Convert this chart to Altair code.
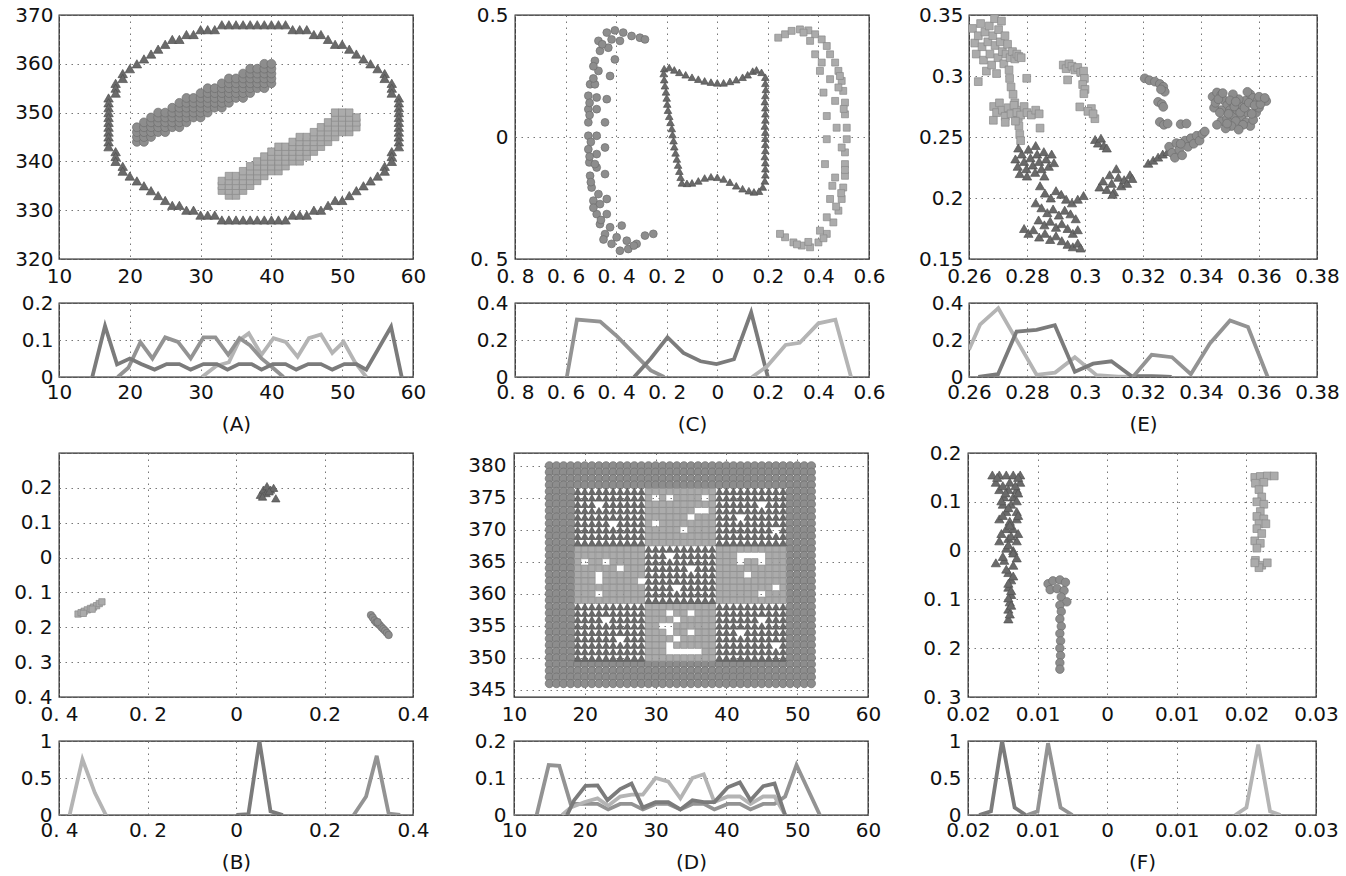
import altair as alt
import pandas as pd

FONT = "DejaVu Sans"
TRI_FILL, TRI_EDGE = "#6a6a6a", "#525252"
CIR_FILL, CIR_EDGE = "#8d8d8d", "#6e6e6e"
SQ_FILL, SQ_EDGE = "#ababab", "#8a8a8a"
TRI_LINE, CIR_LINE, SQ_LINE = "#7b7b7b", "#939393", "#b4b4b4"

# ---------------- Panel A (scatter) ----------------
a_tri_rows_y = [368, 367, 366, 365, 364, 363, 362, 361, 360, 359, 358, 357, 356, 355,
                354, 353, 352, 351, 350, 349, 348, 347, 346, 345, 344, 343, 342, 341,
                340, 339, 338, 337, 336, 335, 334, 333, 332, 331, 330, 329, 328]
a_tri_rows_x = [
    [33, 34, 35, 36, 37, 38, 39, 40, 41, 42], [30, 31, 32, 43, 44, 45], [28, 29, 46, 47],
    [26, 27, 48], [25, 49, 50], [24, 51], [23, 52], [22, 53], [21, 54], [20, 55], [19, 56],
    [19, 56], [18, 57], [18, 57], [18, 57], [17, 58], [17, 58], [17, 58], [17, 58], [17, 58],
    [17, 58], [17, 58], [17, 58], [17, 58], [17, 58], [17, 58], [18, 57], [18, 57], [18, 57],
    [19, 56], [19, 56], [20, 55], [21, 54], [22, 53], [23, 52], [24, 51], [25, 49, 50],
    [26, 27, 48], [28, 29, 46, 47], [30, 31, 32, 43, 44, 45],
    [33, 34, 35, 36, 37, 38, 39, 40, 41, 42]]
a_cir_cols_x = [21, 22, 23, 24, 25, 26, 27, 28, 29, 30, 31, 32, 33, 34, 35, 36, 37, 38, 39, 40]
a_cir_lo = [344, 344, 345, 346, 346, 347, 347, 348, 349, 349, 350, 351, 351, 352, 353, 353, 354, 355, 355, 356]
a_cir_hi = [347, 348, 349, 350, 350, 351, 352, 353, 353, 354, 355, 355, 356, 357, 357, 358, 359, 359, 360, 360]
a_sq_cols_x = [33, 34, 35, 36, 37, 38, 39, 40, 41, 42, 43, 44, 45, 46, 47, 48, 49, 50, 51, 52]
a_sq_lo = [334, 333, 333, 334, 335, 336, 337, 338, 338, 339, 340, 340, 341, 342, 343, 344, 345, 346, 346, 347]
a_sq_hi = [336, 337, 337, 338, 339, 340, 341, 342, 343, 343, 344, 345, 345, 346, 347, 348, 350, 350, 350, 349]

# ---------------- Panel A (profiles) ----------------
a_tri_lx = [14.7, 16.5, 18.2, 20.0, 21.6, 23.5, 25.2, 27.0, 28.6, 30.4, 32.3, 33.8, 35.4, 37.2, 38.6,
            40.2, 42.0, 43.5, 45.2, 47.0, 48.6, 50.3, 52.0, 53.4, 56.9, 58.4]
a_tri_ly = [0, 0.138, 0.034, 0.05, 0.035, 0.02, 0.035, 0.035, 0.02, 0.035, 0.035, 0.02, 0.035, 0.035,
            0.02, 0.035, 0.035, 0.02, 0.035, 0.035, 0.02, 0.035, 0.035, 0.02, 0.136, 0]
a_cir_lx = [18.3, 19.8, 21.5, 23.2, 25.0, 26.8, 28.6, 30.4, 32.1, 33.9, 35.5, 37.0, 38.6, 40.2, 41.7]
a_cir_ly = [0, 0.025, 0.094, 0.05, 0.107, 0.095, 0.05, 0.107, 0.107, 0.06, 0.105, 0.085, 0.05, 0.025, 0]
a_sq_lx = [30.2, 32.2, 34.0, 35.5, 36.8, 38.6, 40.3, 42.0, 43.7, 45.3, 47.0, 48.6, 50.2, 51.8, 53.4]
a_sq_ly = [0, 0.03, 0.04, 0.1, 0.118, 0.06, 0.105, 0.095, 0.055, 0.105, 0.115, 0.065, 0.095, 0.04, 0]

# ---------------- Panel C (scatter) ----------------
c_cir_x = [-0.503, -0.51, -0.51, -0.51, -0.51, -0.51, -0.506, -0.503, -0.497, -0.49, -0.477, -0.464,
           -0.444, -0.418, -0.385, -0.352, -0.319, -0.286, -0.253, -0.358, -0.398, -0.424, -0.378,
           -0.437, -0.464, -0.437, -0.47, -0.444, -0.477, -0.484, -0.477, -0.444, -0.477, -0.444,
           -0.477, -0.437, -0.477, -0.484, -0.424, -0.47, -0.405, -0.484, -0.464, -0.431, -0.47,
           -0.437, -0.405, -0.372, -0.339, -0.306, -0.286, -0.385, -0.418, -0.49, -0.5,
           -0.505, -0.505, -0.505, -0.5, -0.49, -0.49, -0.455, -0.46, -0.45, -0.33]
c_cir_y = [0.216, 0.169, 0.114, 0.06, 0.005, -0.05, -0.104, -0.159, -0.207, -0.261, -0.316, -0.357,
           -0.398, -0.438, -0.466, -0.459, -0.438, -0.404, -0.397, -0.425, -0.411, -0.37, -0.363,
           -0.316, -0.275, -0.254, -0.234, -0.152, -0.125, -0.111, -0.07, -0.043, 0.005, 0.06,
           0.114, 0.155, 0.162, 0.216, 0.25, 0.271, 0.318, 0.312, 0.353, 0.366, 0.394, 0.428,
           0.437, 0.428, 0.414, 0.407, 0.4, 0.394, 0.4, 0.29, -0.02,
           0.14, 0.09, -0.08, -0.185, 0.24, -0.29, 0.38, -0.34, -0.42, -0.445]
c_sq_x = [0.241, 0.268, 0.294, 0.327, 0.36, 0.387, 0.413, 0.433, 0.446, 0.466, 0.479, 0.492, 0.498,
          0.505, 0.505, 0.512, 0.512, 0.505, 0.505, 0.505, 0.498, 0.492, 0.479, 0.459, 0.433, 0.4,
          0.367, 0.334, 0.301, 0.268, 0.248, 0.387, 0.406, 0.446, 0.42, 0.466, 0.433, 0.472, 0.433,
          0.492, 0.426, 0.466, 0.446, 0.433, 0.406, 0.341, 0.367, 0.413, 0.479, 0.455,
          0.5, 0.505, 0.47, 0.49, 0.485, 0.42, 0.36, 0.315]
c_sq_y = [0.407, 0.421, 0.435, 0.441, 0.437, 0.421, 0.4, 0.373, 0.339, 0.305, 0.271, 0.23, 0.189,
          0.141, 0.093, 0.038, -0.009, -0.063, -0.111, -0.159, -0.207, -0.254, -0.302, -0.35,
          -0.397, -0.432, -0.452, -0.445, -0.432, -0.411, -0.397, 0.339, 0.271, 0.237, 0.182,
          0.148, 0.086, 0.038, -0.009, -0.043, -0.111, -0.166, -0.254, -0.329, -0.384, 0.428,
          0.394, 0.305, 0.203, -0.2,
          0.115, -0.135, -0.285, -0.23, 0.25, -0.415, -0.43, -0.44]
c_tri_x = [-0.21, -0.19, -0.17, -0.15, -0.125, -0.1, -0.075, -0.05, -0.025, 0.0, 0.025, 0.05, 0.075,
           0.1, 0.12, 0.14, 0.155, 0.175,
           0.19, 0.19, 0.192, 0.19, 0.188, 0.19, 0.19, 0.19, 0.188, 0.19, 0.19, 0.19, 0.19, 0.188,
           0.19, 0.19, 0.19, 0.188, 0.18,
           0.165, 0.145, 0.125, 0.1, 0.075, 0.05, 0.025, 0.0, -0.025, -0.05, -0.075, -0.1, -0.12, -0.14,
           -0.145, -0.15, -0.155, -0.16, -0.165, -0.17, -0.173, -0.177, -0.18, -0.185, -0.19, -0.195,
           -0.198, -0.2, -0.203, -0.207, -0.21, -0.212]
c_tri_y = [0.28, 0.285, 0.275, 0.265, 0.255, 0.245, 0.237, 0.23, 0.225, 0.222, 0.222, 0.228, 0.235,
           0.245, 0.255, 0.27, 0.275, 0.265,
           0.245, 0.22, 0.195, 0.17, 0.145, 0.12, 0.095, 0.07, 0.045, 0.02, -0.005, -0.03, -0.055,
           -0.08, -0.105, -0.13, -0.155, -0.18, -0.205,
           -0.222, -0.225, -0.22, -0.212, -0.2, -0.185, -0.172, -0.165, -0.163, -0.168, -0.18, -0.188,
           -0.19, -0.188,
           -0.165, -0.14, -0.115, -0.09, -0.065, -0.04, -0.015, 0.01, 0.035, 0.06, 0.085, 0.11, 0.135,
           0.16, 0.185, 0.21, 0.235, 0.26]

# ---------------- Panel C (profiles) ----------------
c_cir_lx = [-0.595, -0.555, -0.463, -0.395, -0.336, -0.263, -0.21]
c_cir_ly = [0, 0.31, 0.30, 0.218, 0.136, 0.036, 0]
c_tri_lx = [-0.329, -0.263, -0.197, -0.134, -0.066, -0.003, 0.066, 0.134, 0.2]
c_tri_ly = [0, 0.1, 0.215, 0.13, 0.085, 0.07, 0.096, 0.349, 0]
c_sq_lx = [0.138, 0.197, 0.27, 0.326, 0.4, 0.467, 0.529]
c_sq_ly = [0, 0.058, 0.173, 0.185, 0.29, 0.31, 0]

# ---------------- Panel E (scatter) ----------------
e_sq_x = [0.2612, 0.2620, 0.2625, 0.2632, 0.2640, 0.2645, 0.2650, 0.2655, 0.2660, 0.2665, 0.2670,
          0.2672, 0.2678, 0.2682, 0.2688, 0.2690, 0.2695, 0.2700, 0.2702, 0.2708, 0.2712, 0.2715,
          0.2720, 0.2724, 0.2728, 0.2733, 0.2738, 0.2742, 0.2750, 0.2758, 0.2765, 0.2772, 0.2780,
          0.2740, 0.2745, 0.2752, 0.2758, 0.2765, 0.2770, 0.2772, 0.2775, 0.2778, 0.2632, 0.2799,
          0.2685, 0.2695, 0.2705, 0.2715, 0.2725, 0.2735, 0.2745, 0.2755, 0.2765, 0.2778, 0.2790,
          0.2800, 0.2815, 0.2830, 0.2842, 0.2684, 0.2845, 0.2725, 0.2760,
          0.2925, 0.2935, 0.2945, 0.2955, 0.2965, 0.2975, 0.2985, 0.2995, 0.2998, 0.2992, 0.3000,
          0.2996, 0.2940, 0.2982, 0.3022, 0.3034, 0.3010, 0.3028]
e_sq_y = [0.339, 0.327, 0.318, 0.333, 0.343, 0.324, 0.313, 0.336, 0.304, 0.328, 0.341, 0.318, 0.309,
          0.333, 0.347, 0.325, 0.302, 0.315, 0.338, 0.328, 0.345, 0.320, 0.310, 0.333, 0.318, 0.326,
          0.305, 0.315, 0.320, 0.314, 0.318, 0.316, 0.315, 0.298, 0.291, 0.285, 0.278, 0.272, 0.266,
          0.259, 0.252, 0.247, 0.2954, 0.2981,
          0.275, 0.270, 0.278, 0.272, 0.267, 0.274, 0.269, 0.276, 0.270, 0.268, 0.275, 0.270, 0.268,
          0.272, 0.269, 0.2637, 0.2573, 0.262, 0.263,
          0.309, 0.306, 0.310, 0.308, 0.305, 0.307, 0.303, 0.304, 0.298, 0.293, 0.289, 0.2855, 0.2968,
          0.2747, 0.2733, 0.2650, 0.2710, 0.2690]
e_tri_x = [0.2760, 0.2768, 0.2775, 0.2782, 0.2790, 0.2798, 0.2805, 0.2812, 0.2820, 0.2828, 0.2835,
           0.2842, 0.2850, 0.2858, 0.2866, 0.2875, 0.2885, 0.2893, 0.2770, 0.2800, 0.2830, 0.2860,
           0.2845, 0.2862, 0.2882, 0.2900, 0.2918, 0.2935, 0.2955, 0.2975, 0.2995, 0.2830, 0.2850,
           0.2870, 0.2890, 0.2910, 0.2930, 0.2950, 0.2968, 0.2840, 0.2860, 0.2880, 0.2900, 0.2920,
           0.2940, 0.2958, 0.2975, 0.2790, 0.2805, 0.2822, 0.2842, 0.2862, 0.2880, 0.2900, 0.2920,
           0.2940, 0.2958, 0.2975, 0.2985,
           0.3035, 0.3045, 0.3055, 0.3065, 0.3075,
           0.3050, 0.3062, 0.3075, 0.3085, 0.3092, 0.3100, 0.3108, 0.3115, 0.3125, 0.3135, 0.3145,
           0.3155, 0.3163, 0.3095,
           0.3218, 0.3235, 0.3252, 0.3268, 0.3285]
e_tri_y = [0.232, 0.226, 0.220, 0.236, 0.230, 0.224, 0.240, 0.233, 0.227, 0.221, 0.236, 0.230, 0.224,
           0.238, 0.232, 0.226, 0.236, 0.229, 0.241, 0.218, 0.243, 0.218,
           0.210, 0.204, 0.200, 0.206, 0.203, 0.199, 0.196, 0.199, 0.202, 0.196, 0.192, 0.188, 0.191,
           0.186, 0.190, 0.187, 0.183, 0.182, 0.178, 0.181, 0.176, 0.179, 0.175, 0.171, 0.174, 0.175,
           0.171, 0.174, 0.168, 0.171, 0.166, 0.169, 0.165, 0.162, 0.160, 0.163, 0.159,
           0.248, 0.245, 0.249, 0.243, 0.241,
           0.209, 0.214, 0.207, 0.219, 0.212, 0.205, 0.224, 0.217, 0.210, 0.215, 0.212, 0.219, 0.216,
           0.203,
           0.2285, 0.231, 0.2335, 0.236, 0.238]
e_cir_x = [0.3206, 0.3222, 0.3241, 0.3258, 0.3270, 0.3275, 0.3262, 0.3252, 0.3265, 0.3270,
           0.3258, 0.3272, 0.3285, 0.3330, 0.3350,
           0.3290, 0.3300, 0.3310, 0.3315, 0.3325, 0.3335, 0.3345, 0.3355, 0.3365, 0.3375, 0.3385,
           0.3395, 0.3405, 0.3413, 0.3330,
           0.3440, 0.3455, 0.3470, 0.3480, 0.3490, 0.3500, 0.3470, 0.3455, 0.3490, 0.3510, 0.3525,
           0.3540, 0.3555, 0.3570, 0.3560, 0.3580, 0.3595, 0.3610, 0.3625, 0.3540, 0.3555, 0.3570,
           0.3580, 0.3520, 0.3505, 0.3485, 0.3530, 0.3510, 0.3590, 0.3600, 0.3470, 0.3445, 0.3560,
           0.3500,
           0.3450, 0.3465, 0.3495, 0.3515, 0.3535, 0.3550, 0.3565, 0.3585, 0.3605, 0.3575, 0.3545,
           0.3460, 0.3520, 0.3600, 0.3490, 0.3530, 0.3620, 0.3475]
e_cir_y = [0.2981, 0.2965, 0.2954, 0.2935, 0.2912, 0.2871, 0.2890, 0.2788, 0.2770, 0.2747,
           0.2623, 0.2600, 0.2610, 0.2605, 0.2610,
           0.2420, 0.2370, 0.2330, 0.2450, 0.2395, 0.2350, 0.2470, 0.2420, 0.2490, 0.2445, 0.2510,
           0.2470, 0.2525, 0.2545, 0.2445,
           0.2830, 0.2865, 0.2845, 0.2800, 0.2760, 0.2720, 0.2630, 0.2600, 0.2650, 0.2680, 0.2720,
           0.2760, 0.2800, 0.2850, 0.2870, 0.2820, 0.2800, 0.2805, 0.2795, 0.2660, 0.2620, 0.2590,
           0.2640, 0.2630, 0.2590, 0.2570, 0.2810, 0.2850, 0.2700, 0.2740, 0.2720, 0.2740, 0.2700,
           0.2800,
           0.2780, 0.2700, 0.2690, 0.2750, 0.2700, 0.2740, 0.2780, 0.2760, 0.2770, 0.2690, 0.2600,
           0.2810, 0.2790, 0.2830, 0.2610, 0.2560, 0.2820, 0.2860]

# ---------------- Panel E (profiles) ----------------
e_sq_lx = [0.26, 0.2638, 0.2701, 0.2833, 0.2897, 0.2965, 0.304, 0.3115, 0.3195, 0.326, 0.33]
e_sq_ly = [0.148, 0.283, 0.372, 0.012, 0.024, 0.107, 0.01, 0.002, 0.002, 0.002, 0]
e_tri_lx = [0.2632, 0.270, 0.2764, 0.2833, 0.2896, 0.2965, 0.3028, 0.3091, 0.316, 0.323, 0.3298]
e_tri_ly = [0, 0.015, 0.246, 0.255, 0.28, 0.028, 0.072, 0.085, 0.005, 0.005, 0]
e_cir_lx = [0.3165, 0.323, 0.33, 0.3365, 0.343, 0.35, 0.3562, 0.363]
e_cir_ly = [0, 0.12, 0.107, 0.015, 0.18, 0.305, 0.27, 0]

# ---------------- Panel B ----------------
b_sq_x = [-0.357, -0.350, -0.343, -0.336, -0.329, -0.322, -0.315, -0.309, -0.303, -0.345, -0.325]
b_sq_y = [-0.162, -0.158, -0.154, -0.150, -0.146, -0.142, -0.138, -0.132, -0.127, -0.160, -0.148]
b_tri_x = [0.055, 0.062, 0.070, 0.078, 0.085, 0.068, 0.090, 0.075, 0.060]
b_tri_y = [0.180, 0.195, 0.205, 0.195, 0.200, 0.185, 0.170, 0.190, 0.175]
b_cir_x = [0.305, 0.309, 0.313, 0.317, 0.321, 0.325, 0.329, 0.333, 0.337, 0.341, 0.345, 0.320]
b_cir_y = [-0.165, -0.172, -0.180, -0.186, -0.190, -0.194, -0.200, -0.205, -0.210, -0.216, -0.222, -0.185]
b_sq_lx = [-0.376, -0.347, -0.319, -0.294]
b_sq_ly = [0, 0.752, 0.3, 0]
b_tri_lx = [0.0015, 0.028, 0.053, 0.078, 0.106]
b_tri_ly = [0, 0.01, 1.0, 0.05, 0]
b_cir_lx = [0.266, 0.294, 0.318, 0.345, 0.371]
b_cir_ly = [0, 0.25, 0.8, 0.02, 0]

# ---------------- Panel D (grid map: o circle, s square, t triangle, . empty) ----------------
d_x0, d_y_top = 15, 380
d_rows = [
    "oooo|oooooooooo|oooooooooo|oooooooooo|oooo",
    "oooo|oooooooooo|oooooooooo|oooooooooo|oooo",
    "oooo|oooooooooo|oooooooooo|oooooooooo|oooo",
    "oooo|oooooooooo|oooooooooo|oooooooooo|oooo",
    "oooo|tttttttttt|ssssssssss|tttttttttt|oooo",
    "oooo|tttttttttt|s.s.ssss.s|tttttttttt|oooo",
    "oooo|ttt.tttttt|ssssssssss|tttttt.ttt|oooo",
    "oooo|tttttttttt|sssssss..s|tttttttttt|oooo",
    "oooo|tttttttttt|ssssss.sss|ttt.tttttt|oooo",
    "oooo|ttttt.tttt|s.ssssssss|tttttttttt|oooo",
    "oooo|tttttttttt|sssss.ssss|tttttttt.t|oooo",
    "oooo|tttttttttt|ssssssssss|tttttttttt|oooo",
    "oooo|tttttttttt|ssssssssss|tttttttttt|oooo",
    "oooo|ssssssssss|tttttttttt|ssssssssss|oooo",
    "oooo|ssssssssss|ttt.tttttt|sss....sss|oooo",
    "oooo|s.ss.sssss|tttttttttt|sss.ss.sss|oooo",
    "oooo|ssssss.sss|tttttt.ttt|ssssssssss|oooo",
    "oooo|sss.ssssss|tttttttttt|ssss.sssss|oooo",
    "oooo|sss.sssss.|tttttttttt|ssssssssss|oooo",
    "oooo|ssssssssss|tttt.ttttt|ssssssss.s|oooo",
    "oooo|sss.ssssss|tttttttttt|ssssss.sss|oooo",
    "oooo|ssssssssss|tttttttttt|ssssssssss|oooo",
    "oooo|tttttttttt|ssssssssss|tttttttttt|oooo",
    "oooo|tttttttttt|sss.ss.sss|tttttttttt|oooo",
    "oooo|tttt.ttttt|ssss.sssss|tttttt.ttt|oooo",
    "oooo|tttttttttt|ss..ssssss|tttttttttt|oooo",
    "oooo|tttttttttt|sss.ss.sss|ttt.tttttt|oooo",
    "oooo|tttttt.ttt|ssss.sssss|tttttttttt|oooo",
    "oooo|tttttttttt|sss.ssssss|tttttttt.t|oooo",
    "oooo|tttttttttt|sss.....ss|tttttttttt|oooo",
    "oooo|tttttttttt|ssssssssss|tttttttttt|oooo",
    "oooo|oooooooooo|oooooooooo|oooooooooo|oooo",
    "oooo|oooooooooo|oooooooooo|oooooooooo|oooo",
    "oooo|oooooooooo|oooooooooo|oooooooooo|oooo",
    "oooo|oooooooooo|oooooooooo|oooooooooo|oooo",
]
d_tri_lx = [17.5, 18.5, 20.1, 21.8, 23.2, 25.0, 26.6, 28.2, 30.0, 31.8, 33.5, 35.2, 36.8, 38.3, 40.2,
            41.9, 43.4, 45.2, 46.8, 48.3]
d_tri_ly = [0, 0.04, 0.079, 0.08, 0.04, 0.07, 0.085, 0.02, 0.035, 0.035, 0.015, 0.04, 0.035, 0.035,
            0.075, 0.088, 0.04, 0.078, 0.085, 0]
d_sq_lx = [16.8, 18.0, 20.0, 21.8, 23.3, 25.0, 26.6, 28.2, 30.0, 31.8, 33.5, 35.2, 36.8, 38.3, 40.2,
           41.9, 43.4, 45.2, 46.8, 48.3]
d_sq_ly = [0, 0.02, 0.035, 0.045, 0.025, 0.05, 0.055, 0.055, 0.1, 0.09, 0.045, 0.1, 0.11, 0.035, 0.05,
           0.05, 0.03, 0.05, 0.05, 0]
d_cir_lx = [13.2, 14.9, 16.4, 18.0, 20.0, 21.8, 23.3, 25.0, 26.6, 28.2, 30.0, 31.8, 33.5, 35.2, 36.8,
            38.3, 40.2, 41.9, 43.4, 45.2, 46.8, 48.3, 49.9, 53.2]
d_cir_ly = [0, 0.135, 0.133, 0.03, 0.03, 0.03, 0.015, 0.03, 0.03, 0.015, 0.03, 0.03, 0.015, 0.03,
            0.03, 0.015, 0.03, 0.03, 0.015, 0.03, 0.03, 0.05, 0.135, 0]

# ---------------- Panel F ----------------
f_tri_x = [-0.0165, -0.0155, -0.0145, -0.0135, -0.0125, -0.016, -0.014, -0.0125, -0.0155, -0.0142,
           -0.013, -0.0148, -0.0135, -0.015, -0.0138, -0.0145, -0.013, -0.0155, -0.014, -0.013,
           -0.0145, -0.0135, -0.0155, -0.0142, -0.013, -0.0145, -0.0135, -0.016, -0.0148, -0.0135,
           -0.0142, -0.0138, -0.0142, -0.0138, -0.014, -0.0142, -0.0142, -0.0135, -0.0138,
           -0.0158, -0.0128, -0.0150, -0.0132, -0.0146, -0.0128, -0.0152, -0.0130, -0.0142, -0.0150,
           -0.0128, -0.0140, -0.0152, -0.0128, -0.0142, -0.0150, -0.0130, -0.0145, -0.0135, -0.0142,
           -0.0138, -0.0142, -0.0138, -0.0140]
f_tri_y = [0.155, 0.155, 0.155, 0.155, 0.155, 0.14, 0.14, 0.14, 0.125, 0.125, 0.125, 0.11, 0.11,
           0.095, 0.095, 0.08, 0.08, 0.065, 0.06, 0.065, 0.045, 0.045, 0.02, 0.025, 0.02, 0.005, 0.0,
           -0.025, -0.02, -0.03, -0.045, -0.06, -0.075, -0.09, -0.105, -0.12, -0.14, -0.005, 0.03,
           0.15, 0.15, 0.133, 0.133, 0.118, 0.118, 0.102, 0.102, 0.088, 0.072, 0.072, 0.052, 0.035,
           0.035, 0.012, -0.012, -0.015, -0.038, -0.052, -0.067, -0.082, -0.097, -0.112, -0.13]
f_cir_x = [-0.0085, -0.0078, -0.0068, -0.006, -0.0082, -0.0072, -0.0062, -0.0066, -0.0058, -0.0068,
           -0.0066, -0.0068, -0.0066, -0.0068, -0.0067, -0.0068, -0.0067, -0.0068, -0.0068]
f_cir_y = [-0.068, -0.062, -0.06, -0.065, -0.08, -0.078, -0.082, -0.095, -0.105, -0.112, -0.125,
           -0.14, -0.155, -0.17, -0.185, -0.2, -0.215, -0.23, -0.243]
f_sq_x = [0.0212, 0.022, 0.023, 0.024, 0.0213, 0.0225, 0.0218, 0.0222, 0.0215, 0.0225, 0.022, 0.0215,
          0.0225, 0.0218, 0.0228, 0.0215, 0.0222, 0.0212, 0.022, 0.0215, 0.0213, 0.0222, 0.023,
          0.0218, 0.0212]
f_sq_y = [0.15, 0.152, 0.153, 0.153, 0.138, 0.14, 0.125, 0.11, 0.1, 0.095, 0.08, 0.07, 0.065, 0.055,
          0.055, 0.045, 0.035, 0.02, 0.015, 0.005, -0.02, -0.03, -0.025, -0.035, -0.025]
f_tri_lx = [-0.0184, -0.0167, -0.0151, -0.0133, -0.0117]
f_tri_ly = [0, 0.05, 1.0, 0.1, 0]
f_cir_lx = [-0.0115, -0.0100, -0.0085, -0.0067, -0.005]
f_cir_ly = [0, 0.05, 0.97, 0.1, 0]
f_sq_lx = [0.0184, 0.0200, 0.0217, 0.0234, 0.0249]
f_sq_ly = [0, 0.1, 0.95, 0.05, 0]

# ---------------- Tick labels (as printed, minus signs lost) ----------------
a_xt, a_xl = [10, 20, 30, 40, 50, 60], ["10", "20", "30", "40", "50", "60"]
a_yt, a_yl = [320, 330, 340, 350, 360, 370], ["320", "330", "340", "350", "360", "370"]
a_lyt, a_lyl = [0, 0.1, 0.2], ["0", "0.1", "0.2"]
c_xt = [-0.8, -0.6, -0.4, -0.2, 0, 0.2, 0.4, 0.6]
c_xl = ["0. 8", "0. 6", "0. 4", "0. 2", "0", "0.2", "0.4", "0.6"]
c_yt, c_yl = [-0.5, 0, 0.5], ["0. 5", "0", "0.5"]
c_lyt, c_lyl = [0, 0.2, 0.4], ["0", "0.2", "0.4"]
e_xt = [0.26, 0.28, 0.30, 0.32, 0.34, 0.36, 0.38]
e_xl = ["0.26", "0.28", "0.3", "0.32", "0.34", "0.36", "0.38"]
e_yt, e_yl = [0.15, 0.2, 0.25, 0.3, 0.35], ["0.15", "0.2", "0.25", "0.3", "0.35"]
e_lyt, e_lyl = [0, 0.2, 0.4], ["0", "0.2", "0.4"]
b_xt, b_xl = [-0.4, -0.2, 0, 0.2, 0.4], ["0. 4", "0. 2", "0", "0.2", "0.4"]
b_yt = [-0.4, -0.3, -0.2, -0.1, 0, 0.1, 0.2, 0.3]
b_yl = ["0. 4", "0. 3", "0. 2", "0. 1", "0", "0.1", "0.2", " "]
b_lyt, b_lyl = [0, 0.5, 1], ["0", "0.5", "1"]
d_xt, d_xl = [10, 20, 30, 40, 50, 60], ["10", "20", "30", "40", "50", "60"]
d_yt = [345, 350, 355, 360, 365, 370, 375, 380, 382]
d_yl = ["345", "350", "355", "360", "365", "370", "375", "380", " "]
d_lyt, d_lyl = [0, 0.1, 0.2], ["0", "0.1", "0.2"]
f_xt = [-0.02, -0.01, 0, 0.01, 0.02, 0.03]
f_xl = ["0.02", "0.01", "0", "0.01", "0.02", "0.03"]
f_yt = [-0.3, -0.2, -0.1, 0, 0.1, 0.2]
f_yl = ["0. 3", "0. 2", "0. 1", "0", "0.1", "0.2"]
f_lyt, f_lyl = [0, 0.5, 1], ["0", "0.5", "1"]

# ---------------- layout constants (pixels) ----------------
W1, W2, W3 = 354, 354, 348
SH, LH = 244, 74
SX_PAD, SX_EXT = 7.5, 28.5    # scatter x-axis label padding / reserved extent
LX_PAD, LX_EXT = 5, 32        # profile x-axis label padding / reserved extent
CAP_PAD = 5                   # caption distance below profile x-axis extent
EXT = {"A": 50, "C": 56, "E": 51, "B": 50, "D": 48, "F": 50}   # y-axis reserved extent
YPAD = {"A": 6, "C": 7, "E": 6, "B": 7, "D": 8, "F": 7}


# ---------------- helpers ----------------
def lab_expr(vals, labs):
    expr = "''"
    for v, l in reversed(list(zip(vals, labs))):
        expr = f"abs(datum.value - ({v})) < 1e-9 ? '{l}' : " + expr
    return expr


def from_rows(ys, xrows):
    xs, yy = [], []
    for y, row in zip(ys, xrows):
        for x in row:
            xs.append(x)
            yy.append(y)
    return xs, yy


def from_cols(xs, lo, hi):
    xx, yy = [], []
    for x, a, b in zip(xs, lo, hi):
        for y in range(a, b + 1):
            xx.append(x)
            yy.append(y)
    return xx, yy


def from_map(rows, x0, ytop):
    out = {"o": ([], []), "s": ([], []), "t": ([], [])}
    for r, row in enumerate(rows):
        cells = row.replace("|", "")
        for c, ch in enumerate(cells):
            if ch in out:
                out[ch][0].append(x0 + c)
                out[ch][1].append(ytop - r)
    return out


SHAPES = {"t": ("triangle-up", TRI_FILL, TRI_EDGE),
          "o": ("circle", CIR_FILL, CIR_EDGE),
          "s": ("square", SQ_FILL, SQ_EDGE)}
LINECOL = {"t": TRI_LINE, "o": CIR_LINE, "s": SQ_LINE}


def x_enc(dom, xt, xl, pad, ext, caption=None):
    ax = alt.Axis(values=xt, labelExpr=lab_expr(xt, xl), labelPadding=pad, minExtent=ext,
                  titlePadding=CAP_PAD)
    return alt.X("x:Q", title=caption, scale=alt.Scale(domain=dom, nice=False, zero=False), axis=ax)


def y_enc(dom, yt, yl, key):
    ax = alt.Axis(values=yt, labelExpr=lab_expr(yt, yl), labelPadding=YPAD[key], minExtent=EXT[key])
    return alt.Y("y:Q", title=None, scale=alt.Scale(domain=dom, nice=False, zero=False), axis=ax)


def scatter(key, groups, xdom, ydom, xt, xl, yt, yl, w):
    layers = []
    for g, xs, ys, size in groups:
        shape, fill, edge = SHAPES[g]
        df = pd.DataFrame({"x": xs, "y": ys})
        layers.append(
            alt.Chart(df).mark_point(shape=shape, size=size, filled=True, fill=fill,
                                     stroke=edge, strokeWidth=0.7, opacity=1, fillOpacity=1)
            .encode(x=x_enc(xdom, xt, xl, SX_PAD, SX_EXT), y=y_enc(ydom, yt, yl, key)))
    return alt.layer(*layers).properties(width=w, height=SH)


def profile(key, series, xdom, ydom, xt, xl, yt, yl, w, caption):
    layers = []
    for g, xs, ys in series:
        df = pd.DataFrame({"x": xs, "y": ys})
        layers.append(
            alt.Chart(df).mark_line(color=LINECOL[g], strokeWidth=3.8, clip=True)
            .encode(x=x_enc(xdom, xt, xl, LX_PAD, LX_EXT, caption), y=y_enc(ydom, yt, yl, key)))
    return alt.layer(*layers).properties(width=w, height=LH)


# A
atx, aty = from_rows(a_tri_rows_y, a_tri_rows_x)
acx, acy = from_cols(a_cir_cols_x, a_cir_lo, a_cir_hi)
asx, asy = from_cols(a_sq_cols_x, a_sq_lo, a_sq_hi)
sc_a = scatter("A", [("t", atx, aty, 90), ("o", acx, acy, 78), ("s", asx, asy, 55)],
               [10, 60], [320, 370], a_xt, a_xl, a_yt, a_yl, W1)
ln_a = profile("A", [("s", a_sq_lx, a_sq_ly), ("o", a_cir_lx, a_cir_ly), ("t", a_tri_lx, a_tri_ly)],
               [10, 60], [0, 0.2], a_xt, a_xl, a_lyt, a_lyl, W1, "(A)")

# C
sc_c = scatter("C", [("o", c_cir_x, c_cir_y, 62), ("s", c_sq_x, c_sq_y, 48), ("t", c_tri_x, c_tri_y, 58)],
               [-0.8, 0.6], [-0.5, 0.5], c_xt, c_xl, c_yt, c_yl, W2)
ln_c = profile("C", [("o", c_cir_lx, c_cir_ly), ("t", c_tri_lx, c_tri_ly), ("s", c_sq_lx, c_sq_ly)],
               [-0.8, 0.6], [0, 0.4], c_xt, c_xl, c_lyt, c_lyl, W2, "(C)")

# E
sc_e = scatter("E", [("s", e_sq_x, e_sq_y, 60), ("t", e_tri_x, e_tri_y, 85), ("o", e_cir_x, e_cir_y, 78)],
               [0.26, 0.38], [0.15, 0.35], e_xt, e_xl, e_yt, e_yl, W3)
ln_e = profile("E", [("s", e_sq_lx, e_sq_ly), ("t", e_tri_lx, e_tri_ly), ("o", e_cir_lx, e_cir_ly)],
               [0.26, 0.38], [0, 0.4], e_xt, e_xl, e_lyt, e_lyl, W3, "(E)")

# B
sc_b = scatter("B", [("s", b_sq_x, b_sq_y, 40), ("t", b_tri_x, b_tri_y, 70), ("o", b_cir_x, b_cir_y, 55)],
               [-0.4, 0.4], [-0.4, 0.3], b_xt, b_xl, b_yt, b_yl, W1)
ln_b = profile("B", [("s", b_sq_lx, b_sq_ly), ("t", b_tri_lx, b_tri_ly), ("o", b_cir_lx, b_cir_ly)],
               [-0.4, 0.4], [0, 1], b_xt, b_xl, b_lyt, b_lyl, W1, "(B)")

# D
dm = from_map(d_rows, d_x0, d_y_top)
sc_d = scatter("D", [("o", dm["o"][0], dm["o"][1], 70), ("s", dm["s"][0], dm["s"][1], 42),
                     ("t", dm["t"][0], dm["t"][1], 55)],
               [10, 60], [343.9, 382], d_xt, d_xl, d_yt, d_yl, W2)
ln_d = profile("D", [("o", d_cir_lx, d_cir_ly), ("s", d_sq_lx, d_sq_ly), ("t", d_tri_lx, d_tri_ly)],
               [10, 60], [0, 0.2], d_xt, d_xl, d_lyt, d_lyl, W2, "(D)")

# F
sc_f = scatter("F", [("t", f_tri_x, f_tri_y, 85), ("o", f_cir_x, f_cir_y, 72), ("s", f_sq_x, f_sq_y, 60)],
               [-0.02, 0.03], [-0.3, 0.2], f_xt, f_xl, f_yt, f_yl, W3)
ln_f = profile("F", [("t", f_tri_lx, f_tri_ly), ("o", f_cir_lx, f_cir_ly), ("s", f_sq_lx, f_sq_ly)],
               [-0.02, 0.03], [0, 1], f_xt, f_xl, f_lyt, f_lyl, W3, "(F)")


def cell(s, l):
    return alt.vconcat(s, l, spacing=3)


row1 = alt.hconcat(cell(sc_a, ln_a), cell(sc_c, ln_c), cell(sc_e, ln_e), spacing=31)
row2 = alt.hconcat(cell(sc_b, ln_b), cell(sc_d, ln_d), cell(sc_f, ln_f), spacing=35)

chart = (
    alt.vconcat(row1, row2, spacing=7)
    .properties(padding={"left": 8, "top": 4, "right": 5, "bottom": 5}, background="white")
    .configure_view(stroke="#222222", strokeWidth=1.3)
    .configure_axis(labelFont=FONT, labelFontSize=20, labelColor="#111111",
                    domain=False, ticks=False, grid=True,
                    gridDash=[1.5, 4.5], gridColor="#777777", gridWidth=1,
                    labelOverlap=False, labelFlush=False,
                    titleFont=FONT, titleFontSize=20, titleFontWeight="normal",
                    titleColor="#111111")
)

chart.save("out.html", embed_options={"renderer": "svg", "actions": False})
